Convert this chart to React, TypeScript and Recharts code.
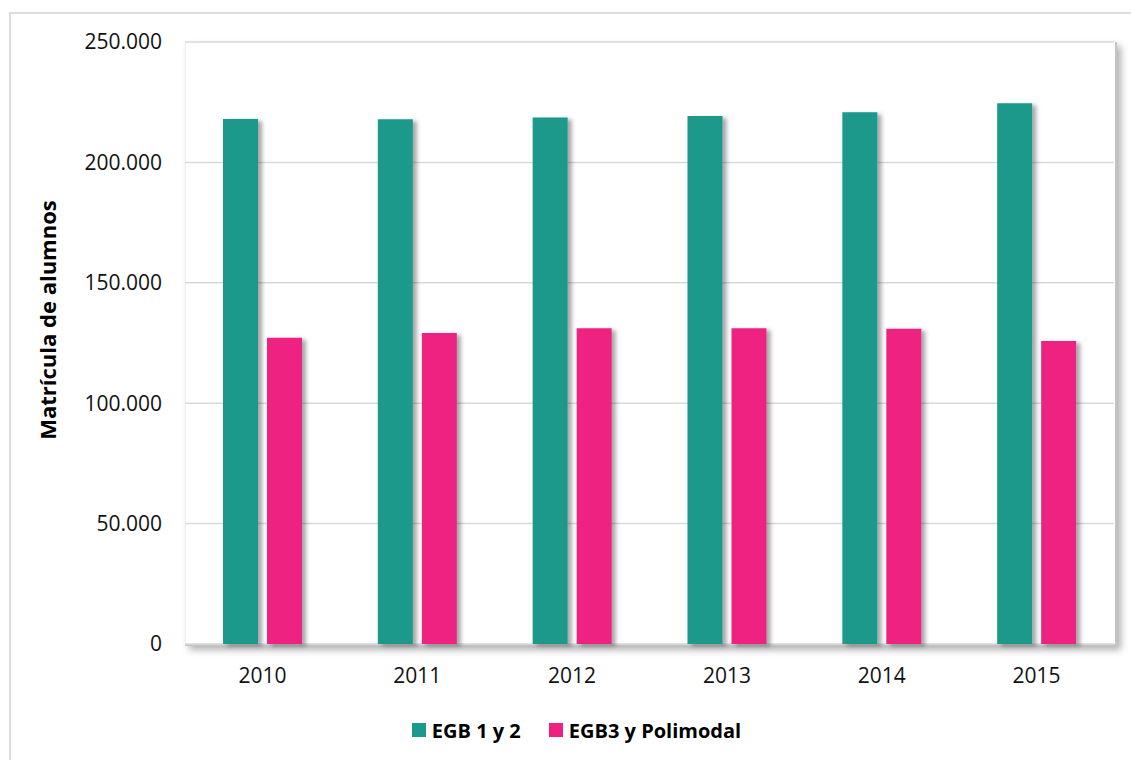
import { Bar, BarChart, CartesianGrid, Rectangle, XAxis, YAxis } from "recharts";

const years = ["2010", "2011", "2012", "2013", "2014", "2015"];
const egb12 = [218000, 217900, 218600, 219300, 220800, 224600];
const egb3Polimodal = [127200, 129200, 131100, 131100, 130900, 125800];
const yTicks = [0, 50000, 100000, 150000, 200000, 250000];

const series = [
  { key: "egb12", name: "EGB 1 y 2", color: "#1b998b" },
  { key: "egb3", name: "EGB3 y Polimodal", color: "#ee2080" },
];

const data = years.map((year, i) => ({
  year,
  egb12: egb12[i],
  egb3: egb3Polimodal[i],
}));

const FONT = "'Open Sans', 'Liberation Sans', sans-serif";

const fmt = (v: number) => v.toLocaleString("de-DE");

const ShadowBar = (props: any) => <Rectangle {...props} filter="url(#barShadow)" />;

export default function App() {
  return (
    <div
      style={{
        position: "absolute",
        left: 0,
        top: 0,
        width: 1131,
        height: 760,
        overflow: "hidden",
        background: "#fff",
        fontFamily: FONT,
      }}
    >
      <div
        style={{
          position: "absolute",
          left: 9,
          top: 12,
          width: 1140,
          height: 770,
          border: "2px solid #dcdcdc",
        }}
      />
      {/* plot frame with shadow */}
      <div
        style={{
          position: "absolute",
          left: 185,
          top: 42,
          width: 929,
          height: 602,
          borderLeft: "1px solid #f0f0f0",
          borderRight: "2px solid #c4c4c4",
          borderBottom: "2px solid #c4c4c4",
          boxShadow: "4px 4px 7px rgba(0,0,0,0.3)",
          background: "#fff",
        }}
      />
      <div style={{ position: "absolute", left: 0, top: 0 }}>
        <BarChart
          width={1131}
          height={760}
          data={data}
          margin={{ top: 42, right: 17, left: 85, bottom: 76 }}
          barSize={35}
          barGap={9}
        >
          <defs>
            <filter id="barShadow" x="-20%" y="-5%" width="160%" height="115%">
              <feDropShadow dx="4" dy="2" stdDeviation="2.2" floodColor="#000" floodOpacity="0.35" />
            </filter>
          </defs>
          <CartesianGrid vertical={false} stroke="#d9d9d9" strokeWidth={1.5} />
          <XAxis
            dataKey="year"
            axisLine={false}
            tickLine={false}
            tickSize={0}
            tickMargin={24}
            height={40}
            tick={{ fill: "#111", fontSize: 21, fontFamily: FONT }}
          />
          <YAxis
            domain={[0, 250000]}
            ticks={yTicks}
            interval={0}
            tickFormatter={fmt}
            axisLine={false}
            tickLine={false}
            tickSize={0}
            tickMargin={23}
            width={100}
            tick={{ fill: "#111", fontSize: 21, fontFamily: FONT }}
            label={{
              content: ({ viewBox }: any) => {
                const cy = viewBox.y + viewBox.height / 2 - 23;
                return (
                  <text
                    x={47}
                    y={cy}
                    transform={`rotate(-90 47 ${cy})`}
                    textAnchor="middle"
                    dominantBaseline="central"
                    fontFamily={FONT}
                    fontWeight={700}
                    fontSize={22}
                    fill="#000"
                  >
                    Matrícula de alumnos
                  </text>
                );
              },
            }}
          />
          {series.map((s) => (
            <Bar
              key={s.key}
              dataKey={s.key}
              name={s.name}
              fill={s.color}
              shape={ShadowBar}
              isAnimationActive={false}
            />
          ))}
        </BarChart>
      </div>
      <div
        style={{
          position: "absolute",
          top: 716,
          left: 0,
          width: 1131,
          display: "flex",
          justifyContent: "center",
          paddingLeft: 22,
          boxSizing: "border-box",
          gap: 28,
          fontWeight: 700,
          fontSize: 20,
          color: "#000",
        }}
      >
        {series.map((s) => (
          <div key={s.key} style={{ display: "flex", alignItems: "center", height: 28 }}>
            <span
              style={{
                display: "inline-block",
                width: 14,
                height: 14,
                background: s.color,
                marginRight: 6,
              }}
            />
            <span>{s.name}</span>
          </div>
        ))}
      </div>
    </div>
  );
}
